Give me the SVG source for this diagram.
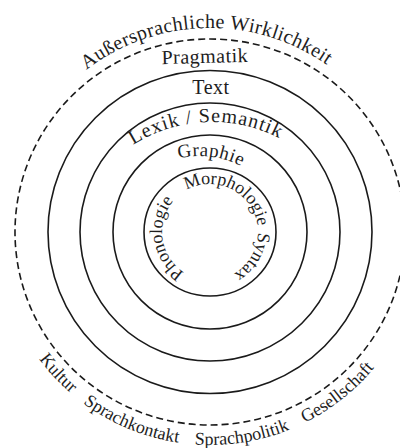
<svg xmlns="http://www.w3.org/2000/svg" width="400" height="448" viewBox="0 0 400 448">
<style>
.ring{fill:none;stroke:#1a1a1a;stroke-width:1.6}
.dash{fill:none;stroke:#1a1a1a;stroke-width:1.6;stroke-dasharray:7 4}
text{font-family:"Liberation Serif","Times New Roman",serif;fill:#1e1e1e}
.l20{font-size:20px;letter-spacing:0.5px}
.l18{font-size:18px}
.l17{font-size:18px}
</style>
<defs>
<path id="pTop" d="M6,232 A204,204 0 0,1 414,232"/>
<path id="pBot" d="M-3,232 A213,213 0 0,0 423,232"/>
<path id="pLex" d="M64,270 A148,148 0 0,1 360,270"/>
<path id="pGra" d="M177,159 A90,90 0 0,1 243,167"/>
<path id="pIn" d="M210,280 A48,48 0 0,1 210,184 A48,48 0 0,1 210,280"/>
</defs>
<rect width="400" height="448" fill="#ffffff"/>
<g id="wirklichkeit">
<ellipse class="dash" cx="210" cy="232" rx="195" ry="193"/>
<text class="l20" style="letter-spacing:0.4px"><textPath href="#pTop" startOffset="316.3" text-anchor="middle">Außersprachliche Wirklichkeit</textPath></text>
<text class="l18"><textPath href="#pBot" startOffset="159.5" text-anchor="middle">Kultur</textPath></text>
<text class="l18"><textPath href="#pBot" startOffset="250.6" text-anchor="middle">Sprachkontakt</textPath></text>
<text class="l18"><textPath href="#pBot" startOffset="367.5" text-anchor="middle">Sprachpolitik</textPath></text>
<text class="l18"><textPath href="#pBot" startOffset="477.2" text-anchor="middle">Gesellschaft</textPath></text>
</g>
<g id="pragmatik">
<ellipse class="ring" cx="210" cy="232" rx="162" ry="161.5"/>
<text class="l20" x="205" y="63" text-anchor="middle" transform="rotate(-1.5 205 63)">Pragmatik</text>
</g>
<g id="text">
<ellipse class="ring" cx="210" cy="232" rx="130" ry="129"/>
<text class="l20" x="211" y="94" text-anchor="middle">Text</text>
</g>
<g id="lexik-semantik">
<ellipse class="ring" cx="210" cy="232" rx="97" ry="97"/>
<text class="l20" style="letter-spacing:1px"><textPath href="#pLex" startOffset="226" text-anchor="middle">Lexik / Semantik</textPath></text>
</g>
<g id="graphie">
<ellipse class="ring" cx="210" cy="232" rx="66" ry="64"/>
<text class="l20" style="font-size:19px"><textPath href="#pGra" startOffset="50%" text-anchor="middle">Graphie</textPath></text>
</g>
<g id="kern">
<text class="l17"><textPath href="#pIn" startOffset="68.3" text-anchor="middle">Phonologie</textPath></text>
<text class="l17"><textPath href="#pIn" startOffset="173" text-anchor="middle">Morphologie</textPath></text>
<text class="l17"><textPath href="#pIn" startOffset="251.3" text-anchor="middle">Syntax</textPath></text>
</g>
</svg>
